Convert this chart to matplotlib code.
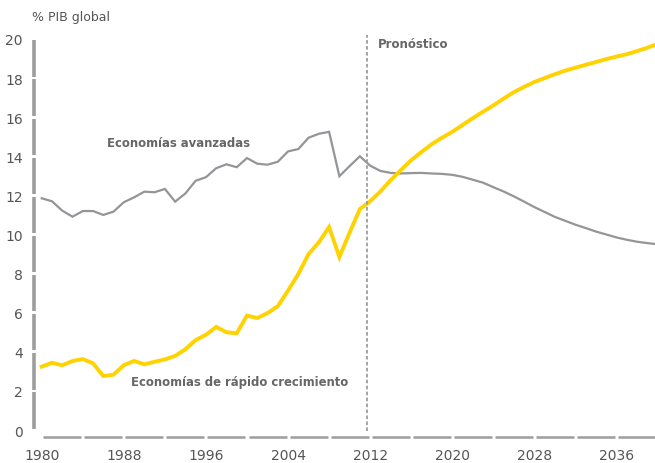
import numpy as np
import matplotlib
matplotlib.use("Agg")
import matplotlib.pyplot as plt

# ------------------------------------------------------------
# data: share of global GDP (%), 1980-2040
# ------------------------------------------------------------
years = np.arange(1980, 2041)

advanced = [
    11.85, 11.70, 11.22, 10.91, 11.20, 11.20, 11.00, 11.17, 11.65, 11.90,
    12.19, 12.16, 12.33, 11.68, 12.10, 12.75, 12.93, 13.39, 13.59, 13.44,
    13.91, 13.62, 13.57, 13.72, 14.25, 14.37, 14.95, 15.15, 15.25, 12.98,
    13.50, 14.00, 13.52, 13.25, 13.15, 13.12, 13.14, 13.15, 13.12, 13.10,
    13.05, 12.95, 12.80, 12.65, 12.42, 12.20, 11.95, 11.68, 11.40, 11.15,
    10.90, 10.70, 10.50, 10.33, 10.15, 10.00, 9.85, 9.73, 9.63, 9.56,
    9.50,
]

rapid_growth = [
    3.24, 3.44, 3.31, 3.53, 3.63, 3.41, 2.76, 2.83, 3.32, 3.53,
    3.36, 3.49, 3.61, 3.79, 4.13, 4.60, 4.87, 5.27, 5.00, 4.95,
    5.85, 5.73, 5.98, 6.33, 7.13, 7.98, 9.00, 9.60, 10.38, 8.85,
    10.10, 11.30, 11.70, 12.20, 12.78, 13.30, 13.80, 14.22, 14.62, 14.95,
    15.25, 15.60, 15.95, 16.28, 16.60, 16.95, 17.28, 17.55, 17.80, 18.00,
    18.20, 18.38, 18.53, 18.68, 18.82, 18.97, 19.10, 19.22, 19.38, 19.55,
    19.75,
]

forecast_start = 2011.65

x_ticks = [1980, 1988, 1996, 2004, 2012, 2020, 2028, 2036]
y_ticks = list(range(0, 21, 2))

# ------------------------------------------------------------
# style
# ------------------------------------------------------------
YELLOW = "#FFD200"
GREY_LINE = "#939598"
AXIS_GREY = "#9d9d9d"
TEXT = "#666666"
TICK_TEXT = "#555555"

plt.rcParams["font.family"] = "DejaVu Sans"

fig = plt.figure(figsize=(6.55, 4.64), dpi=100)
ax = fig.add_axes([34 / 655, 24 / 464, 621 / 655, 410 / 464])

ax.plot(years, advanced, color=GREY_LINE, lw=1.6, solid_joinstyle="miter")
ax.plot(years, rapid_growth, color=YELLOW, lw=2.8, solid_joinstyle="miter")

ax.axvline(forecast_start, ymin=0.02, ymax=0.985, color=AXIS_GREY, lw=1.3,
           ls=(0, (2, 1.3)))

ax.set_xlim(1979.25, 2039.75)
ax.set_ylim(-0.46, 20.51)

# segmented axes: short bars between ticks
x0 = ax.get_xlim()[0]
for lo in y_ticks[:-1]:
    ax.plot([x0, x0], [lo + 0.07, lo + 2 - 0.07], color=AXIS_GREY, lw=2.6,
            solid_capstyle="butt", clip_on=False)
for lo in range(1980, 2040, 4):
    ax.plot([lo + 0.15, lo + 4 - 0.15], [-0.36, -0.36], color=AXIS_GREY,
            lw=1.8, solid_capstyle="butt", clip_on=False)

for s in ax.spines.values():
    s.set_visible(False)

ax.set_xticks(x_ticks)
ax.set_xticklabels([str(t) for t in x_ticks])
ax.set_yticks(y_ticks)
ax.set_yticklabels([str(t) for t in y_ticks])
ax.tick_params(axis="both", length=0, labelsize=10, labelcolor=TICK_TEXT)
ax.tick_params(axis="x", pad=6.5)
ax.tick_params(axis="y", pad=8)

# labels
ax.text(2012.75, 19.75, "Pronóstico", color=TEXT,
        fontsize=8.5, fontweight="bold", va="center", ha="left")
ax.text(1986.35, 14.68, "Economías avanzadas", color=TEXT,
        fontsize=8.4, fontweight="bold", va="center", ha="left")
ax.text(1988.7, 2.5, "Economías de rápido crecimiento", color=TEXT,
        fontsize=8.4, fontweight="bold", va="center", ha="left")

fig.text(32 / 655, 1 - 18 / 464, "% PIB global", color=TICK_TEXT,
         fontsize=9, va="center", ha="left")

fig.savefig("out.png", dpi=100)
